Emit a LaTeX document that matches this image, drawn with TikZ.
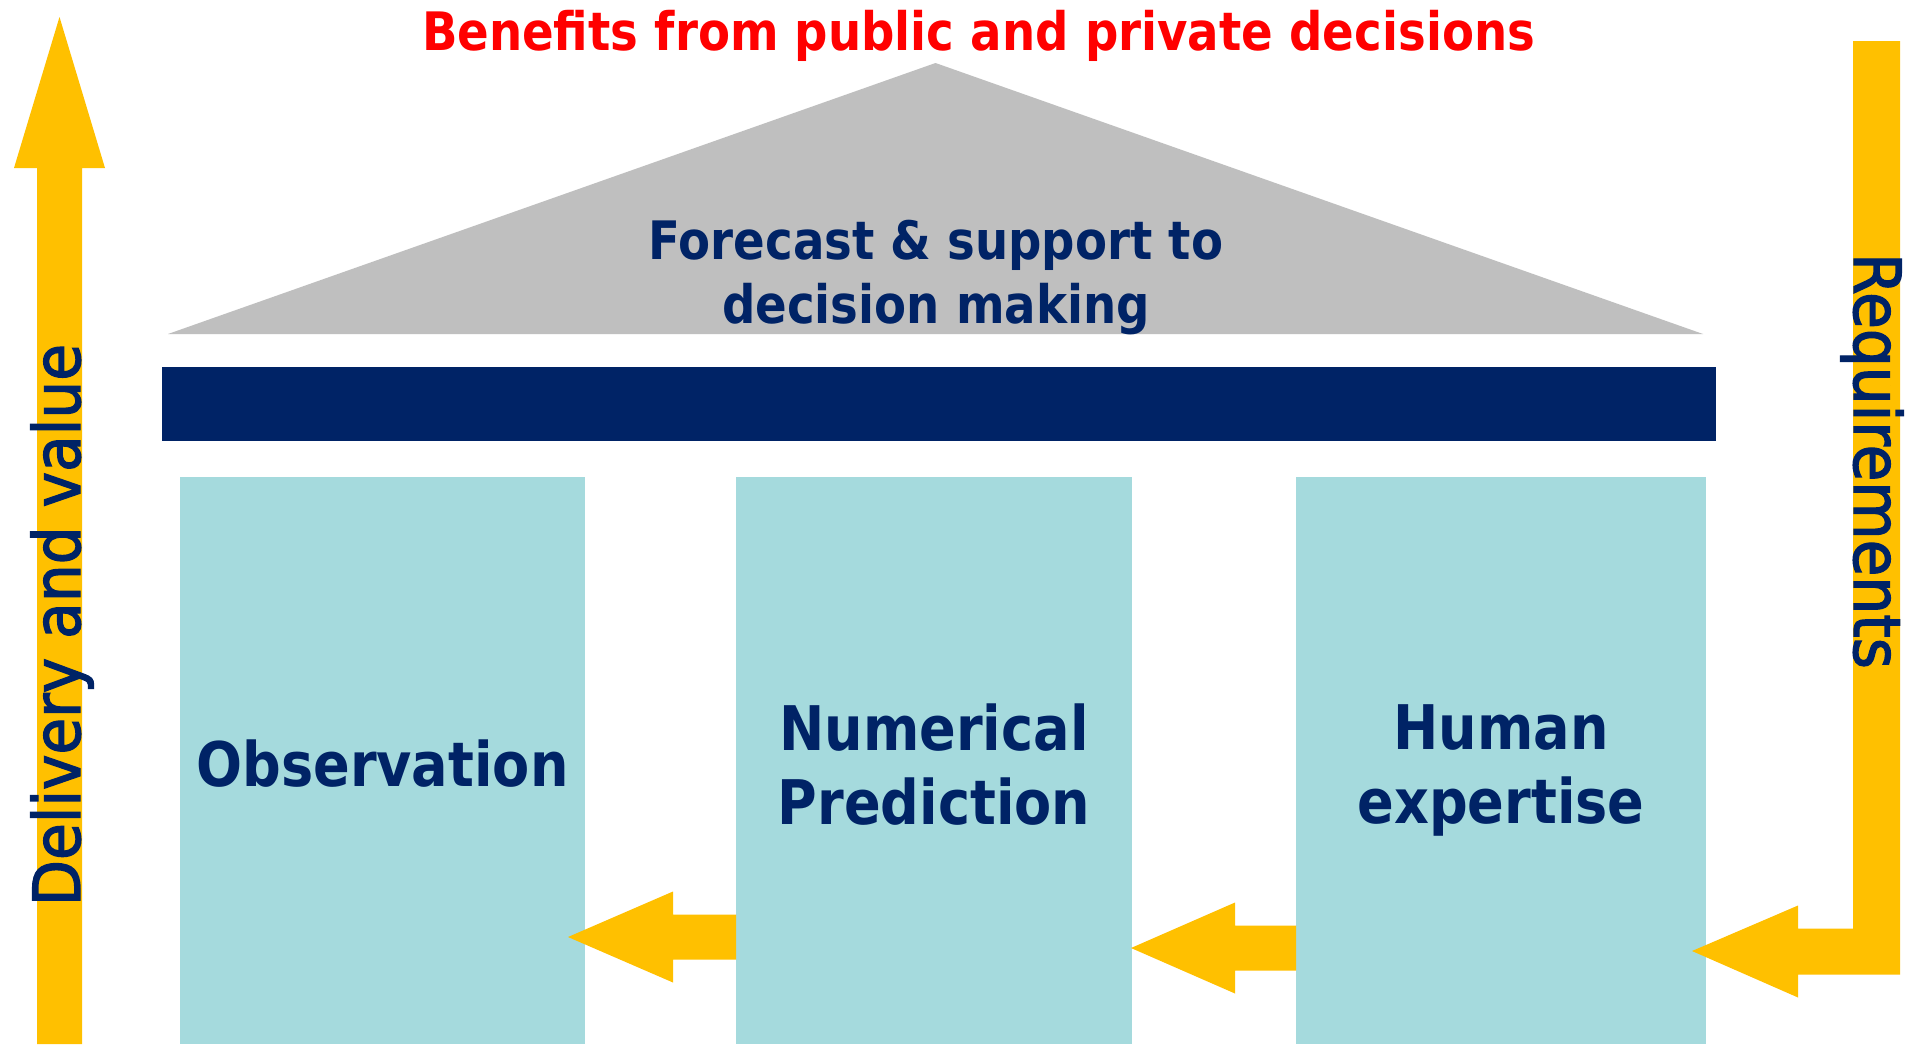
\documentclass[tikz,border=0pt]{standalone}
\usepackage{fontspec}
\newfontfamily\hfont[FakeStretch=0.88]{DejaVu Sans}
\newfontfamily\vfont[FakeStretch=0.92,FakeBold=2]{DejaVu Sans}
\definecolor{navy}{RGB}{0,35,102}
\definecolor{gold}{RGB}{255,192,0}
\definecolor{aqua}{RGB}{165,218,221}
\definecolor{roofgray}{RGB}{191,191,191}
\begin{document}
\begin{tikzpicture}[x=1pt,y=-1pt,
  pillar/.style={fill=aqua, draw=none, inner sep=0pt, outer sep=0pt},
  beambox/.style={fill=navy, draw=none, inner sep=0pt, outer sep=0pt},
  yel/.style={fill=gold, draw=none},
  roof/.style={fill=roofgray, draw=none},
  ptext/.style={text=navy, font=\hfont\bfseries\fontsize{61.5}{74}\selectfont, anchor=base, inner sep=0pt},
  rtext/.style={text=navy, font=\hfont\bfseries\fontsize{53}{64}\selectfont, anchor=base, inner sep=0pt},
  ttext/.style={text=red, font=\hfont\bfseries\fontsize{53}{64}\selectfont, anchor=base, inner sep=0pt},
  vtext/.style={text=navy, font=\vfont\fontsize{65}{78}\selectfont, anchor=base, inner sep=0pt}]
\fill[white] (0,0) rectangle (1908,1044);
\useasboundingbox (0,0) rectangle (1908,1044);

% roof
\coordinate (roofL) at (168,334);
\coordinate (roofT) at (935.5,63);
\coordinate (roofR) at (1703,334);
\fill[roof] (roofL) -- (roofT) -- (roofR) -- cycle;

% beam
\node[beambox, minimum width=1554pt, minimum height=74pt] (beam) at (939,404) {};

% pillars
\node[pillar, minimum width=405pt, minimum height=567pt] (obs) at (382.5,760.5) {};
\node[pillar, minimum width=396pt, minimum height=567pt] (num) at (934,760.5) {};
\node[pillar, minimum width=410pt, minimum height=567pt] (hum) at (1501,760.5) {};

% texts
\node[ttext] (title) at (978.5,50) {Benefits from public and private decisions};
\node[rtext] (fc1) at (936,259) {Forecast \& support to};
\node[rtext] (fc2) at (936,323) {decision making};
\node[ptext] (obsT) at (382.5,786) {Observation};
\node[ptext] (num1) at (934,750) {Numerical};
\node[ptext] (num2) at (934,824) {Prediction};
\node[ptext] (hum1) at (1501,749) {Human};
\node[ptext] (hum2) at (1501,823) {expertise};

% left up arrow
\coordinate (upTip) at (59.5,17);
\fill[yel] (37,1044) -- (37,168) -- (14,168) -- (upTip) -- (105,168) -- (82,168) -- (82,1044) -- cycle;
\node[vtext, rotate=90] (dv) at (80,625) {Delivery and value};

% right bent arrow
\coordinate (t3) at (1692,951);
\fill[yel] (t3) -- ++(106,-45.5) -- ++(0,23) -- ++(55,0) -- (1853,41) -- (1900,41)
  -- (1900,974.5) -- (1798,974.5) -- ++(0,23) -- cycle;
\node[vtext, rotate=-90] (req) at (1854,461) {Requirements};

% arrow numerical -> observation
\coordinate (t1) at (568,937);
\fill[yel] (t1) -- ++(105,-45.5) -- ++(0,23) coordinate (s1) -- (s1 -| num.west)
  -- ++(0,45) coordinate (s2) -- (s1 |- s2) -- ++(0,23) -- cycle;

% arrow human -> numerical
\coordinate (t2) at (1131,948);
\fill[yel] (t2) -- ++(104,-45.5) -- ++(0,23) coordinate (s3) -- (s3 -| hum.west)
  -- ++(0,45) coordinate (s4) -- (s3 |- s4) -- ++(0,23) -- cycle;
\end{tikzpicture}
\end{document}
